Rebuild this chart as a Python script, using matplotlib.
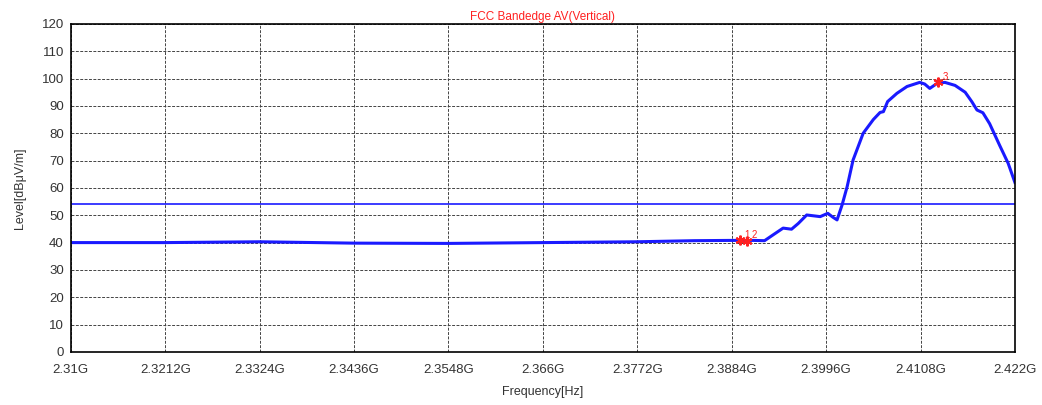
import numpy as np
from matplotlib import pyplot as plt

plt.rcParams['font.family'] = ['Liberation Sans', 'DejaVu Sans']

# trace (GHz, dBuV/m)
freq = [2.31, 2.3212, 2.3324, 2.3436, 2.3548, 2.366, 2.3772, 2.3840, 2.3884,
        2.3910, 2.3923, 2.3933, 2.3945, 2.3955, 2.3963, 2.3973, 2.3989, 2.3998,
        2.4004, 2.4009, 2.4015, 2.4021, 2.4028, 2.4040, 2.4052, 2.4060, 2.4064,
        2.4069, 2.4080, 2.4092, 2.4107, 2.4113, 2.4119, 2.4128, 2.4137, 2.4149,
        2.4161, 2.4169, 2.4175, 2.4182, 2.4190, 2.4202, 2.4212, 2.422]
level = [40.0, 40.0, 40.3, 39.8, 39.7, 40.0, 40.3, 40.7, 40.8,
         40.8, 40.7, 42.8, 45.3, 44.9, 47.0, 50.1, 49.5, 50.7,
         49.3, 48.3, 53.8, 60.5, 70.2, 80.0, 85.0, 87.6, 87.9,
         91.6, 94.6, 97.1, 98.6, 98.0, 96.4, 98.3, 98.6, 97.5,
         95.0, 91.5, 88.5, 87.5, 83.5, 75.5, 69.0, 62.0]
limit = 54
mark_f = [2.3894, 2.3902, 2.4129]
mark_lv = [40.8, 40.6, 98.6]
mark_txt = ["1", "2", "3"]

xticks = [2.31, 2.3212, 2.3324, 2.3436, 2.3548, 2.366, 2.3772, 2.3884, 2.3996, 2.4108, 2.422]
xticklabels = ["2.31G", "2.3212G", "2.3324G", "2.3436G", "2.3548G", "2.366G",
               "2.3772G", "2.3884G", "2.3996G", "2.4108G", "2.422G"]

fig = plt.figure(figsize=(10.42, 4.05), dpi=100)
ax = fig.add_axes([0.068, 0.131, 0.906, 0.81])

ax.plot(freq, level, color='#1a1aff', lw=2.2, solid_joinstyle='round')
ax.axhline(limit, color='#1a1aff', lw=1.2)
ax.plot(mark_f, mark_lv, ls='none', marker=(6, 2, 0), ms=7, mew=1.5, color='#ff2020')
for f, lv, t in zip(mark_f, mark_lv, mark_txt):
    ax.text(f + 0.0005, lv + 1.0, t, color='#ff2020', fontsize=7)

ax.set_xlim(2.31, 2.422)
ax.set_ylim(0, 120)
ax.set_xticks(xticks)
ax.set_xticklabels(xticklabels)
ax.set_yticks(np.arange(0, 121, 10))
ax.tick_params(length=0, labelsize=9.5, colors='#333333')
ax.tick_params(axis='x', pad=9)
ax.tick_params(axis='y', pad=5)
ax.grid(True, color='#444444', ls=(0, (3, 1.5)), lw=0.7)
for s in ax.spines.values():
    s.set_color('black')
    s.set_linewidth(1.2)

ax.set_title("FCC Bandedge AV(Vertical)", color='#ff2020', fontsize=8.5, pad=3)
ax.set_xlabel("Frequency[Hz]", fontsize=9, color='#333333', labelpad=7)
ax.set_ylabel("Level[dBμV/m]", fontsize=9, color='#333333', labelpad=11)

fig.savefig("out.png", dpi=100)
